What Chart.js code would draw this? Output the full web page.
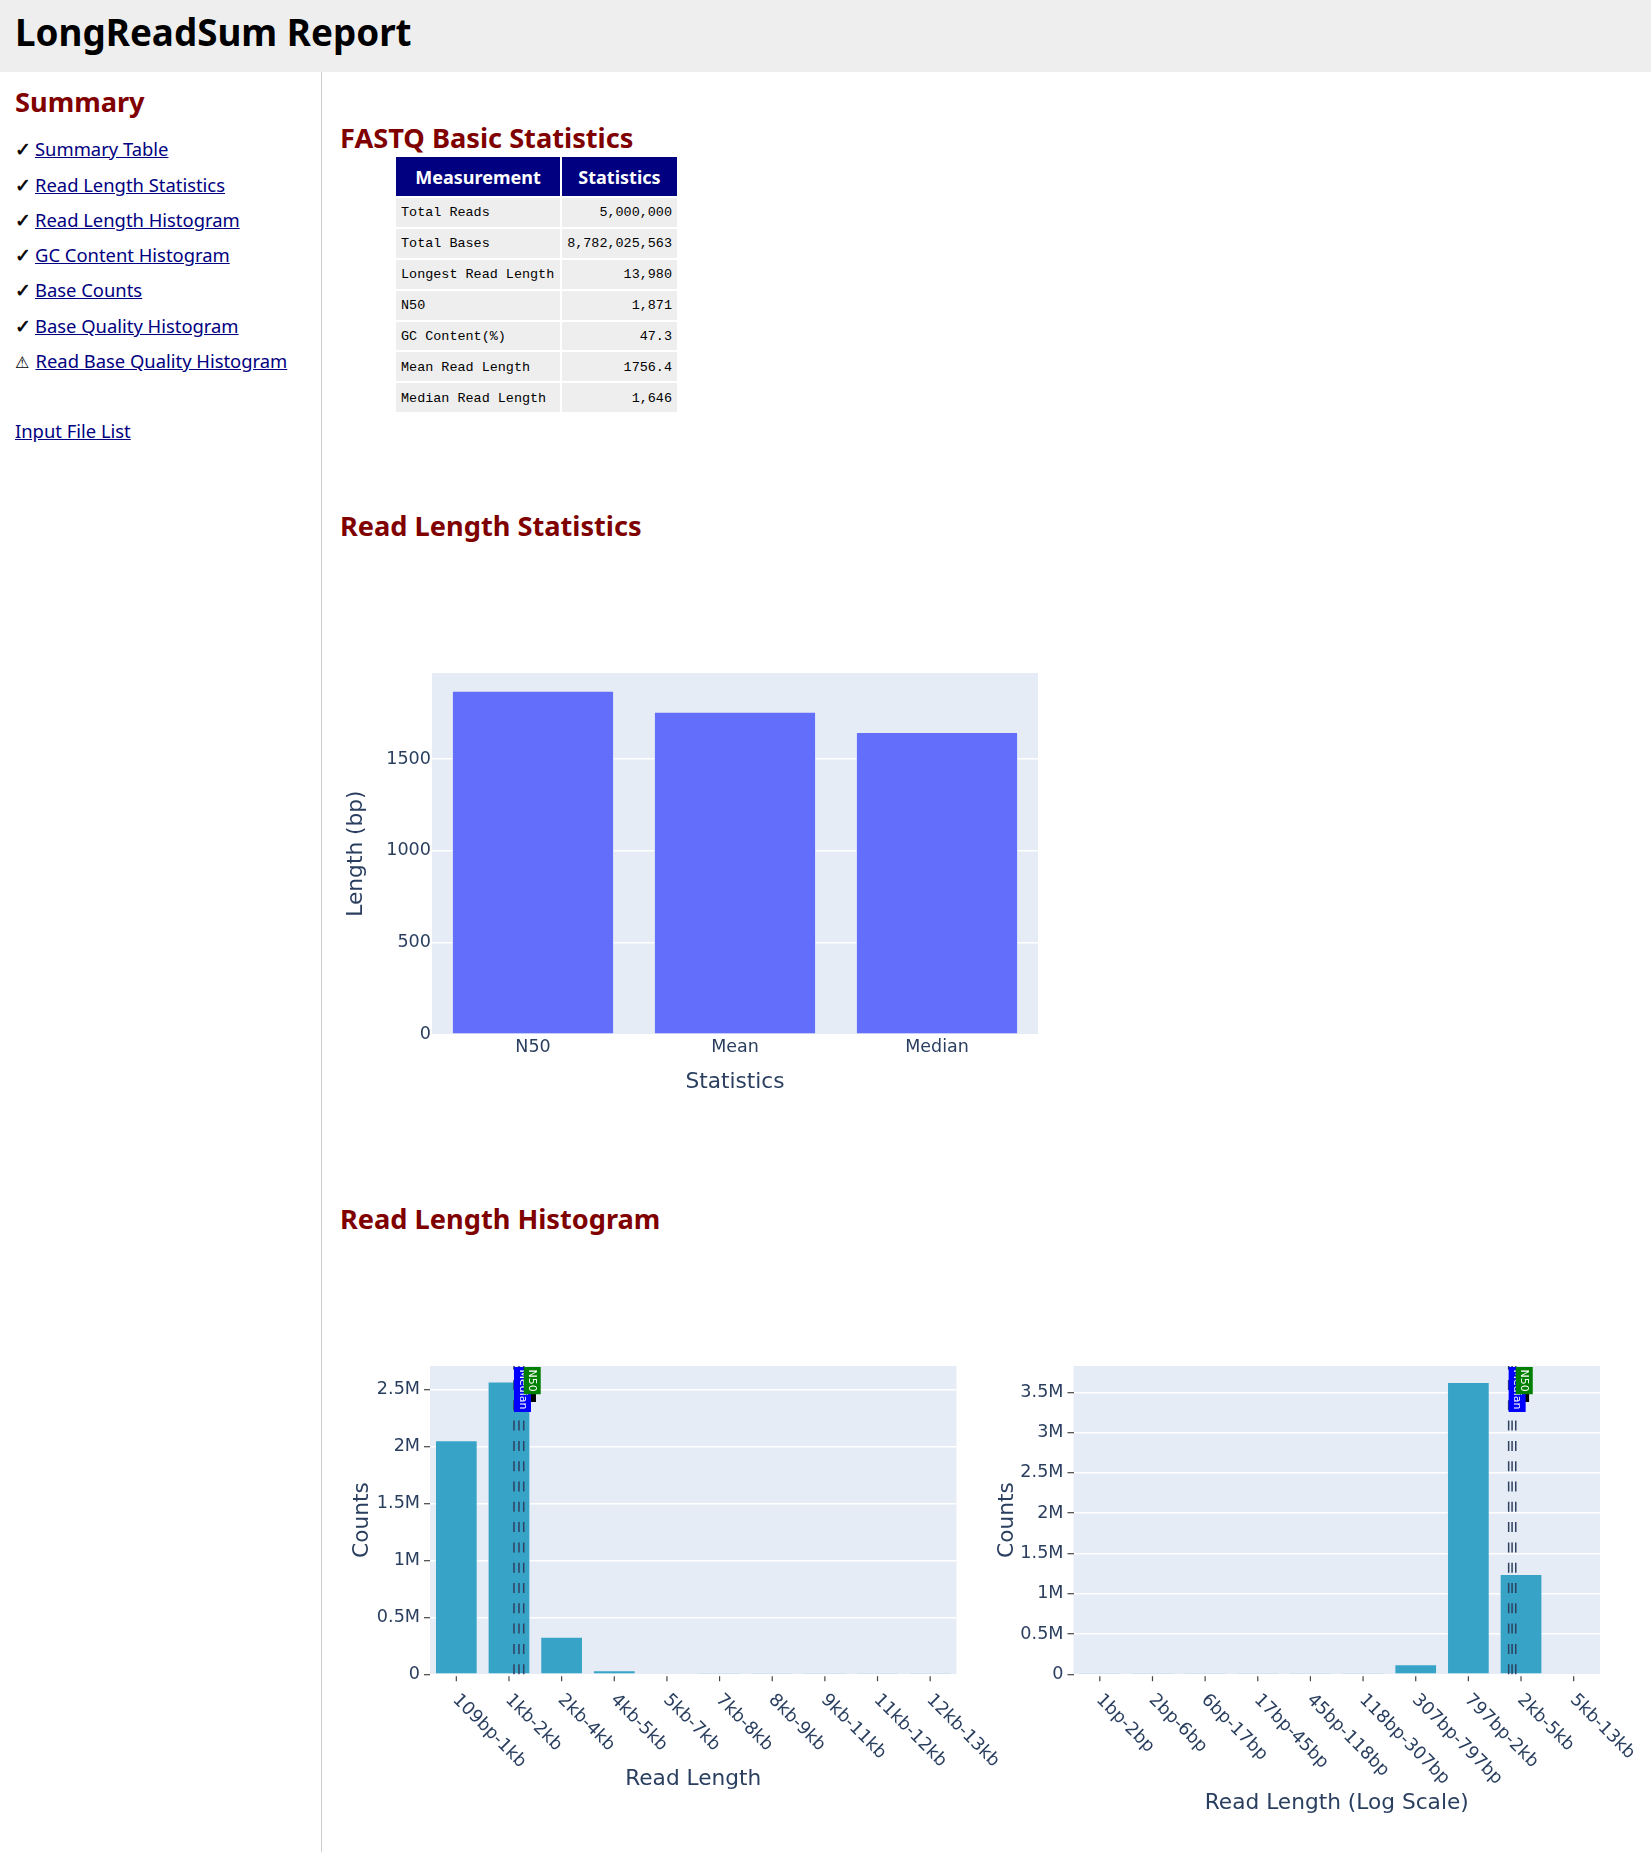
<!DOCTYPE html>
<html>
<head>
<meta charset="utf-8">
<title>LongReadSum Report</title>
<script src="https://cdn.jsdelivr.net/npm/chart.js@4"></script>
<style>
  html, body { margin: 0; padding: 0; background: #fff; }
  body { position: relative; width: 1651px; height: 1852px; overflow: hidden; font-family: "Noto Sans", sans-serif; }
  .abs { position: absolute; margin: 0; white-space: nowrap; }
  #top { left: 0; top: 0; width: 1651px; height: 72px; background: #eeeeee; }
  h1 { font-size: 36.8px; line-height: 40px; font-weight: 700; color: #000; }
  h2 { font-size: 27.2px; line-height: 34px; font-weight: 700; color: #800000; }
  #divider { left: 321px; top: 72px; width: 1px; height: 1780px; background: #ccc; }
  .nav { font-size: 18.4px; line-height: 26px; color: #000; }
  .nav a { color: #000080; text-decoration: underline; }
  .nav span { display: inline-block; width: 20px; font-family: "DejaVu Sans"; font-size: 19px; -webkit-text-stroke: 0.6px #000; }
  .nav span.warn { width: 20.5px; font-size: 16px; -webkit-text-stroke: 0; }
  table { left: 394px; top: 155px; border-collapse: separate; border-spacing: 2px; }
  th { background: #000080; color: #fff; font-size: 18px; font-weight: 700; height: 39px; padding: 0; text-align: center; }
  td { box-sizing: border-box; background: #eeeeee; height: 28.9px; padding: 1px 5px 0; font-family: "Liberation Mono", monospace; font-size: 13.45px; line-height: 15px; color: #000; }
  td.v { text-align: right; }
  canvas { position: absolute; }
</style>
</head>
<body>
<div class="abs" id="top"></div>
<h1 class="abs" style="left:15px;top:12px">LongReadSum Report</h1>
<div class="abs" id="divider"></div>

<h2 class="abs" style="left:15px;top:85px">Summary</h2>
<div id="nav"></div>
<div class="abs nav" style="left:15px;top:418px"><a href="#">Input File List</a></div>

<h2 class="abs" style="left:340px;top:121px">FASTQ Basic Statistics</h2>
<table class="abs" id="stats"></table>

<h2 class="abs" style="left:340px;top:509px">Read Length Statistics</h2>
<canvas id="lenStats" width="720" height="480" style="left:340px;top:630px"></canvas>

<h2 class="abs" style="left:340px;top:1202px">Read Length Histogram</h2>
<canvas id="histLinear" width="670" height="522" style="left:340px;top:1330px"></canvas>
<canvas id="histLog" width="666" height="522" style="left:985px;top:1330px"></canvas>

<script>
// sidebar and table text
const navLabels = ['Summary Table', 'Read Length Statistics', 'Read Length Histogram', 'GC Content Histogram',
  'Base Counts', 'Base Quality Histogram', 'Read Base Quality Histogram'];
const navIcons = ['✓', '✓', '✓', '✓', '✓', '✓', '⚠'];
const tableHead = ['Measurement', 'Statistics'];
const tableLabels = ['Total Reads', 'Total Bases', 'Longest Read Length', 'N50', 'GC Content(%)', 'Mean Read Length', 'Median Read Length'];
const tableValues = ['5,000,000', '8,782,025,563', '13,980', '1,871', '47.3', '1756.4', '1,646'];

// bar chart of the read length statistics
const statNames = ['N50', 'Mean', 'Median'];
const statValues = [1871, 1756.4, 1646];
const statTicks = [0, 500, 1000, 1500];

// linear histogram
const linearBins = ['109bp-1kb', '1kb-2kb', '2kb-4kb', '4kb-5kb', '5kb-7kb', '7kb-8kb', '8kb-9kb', '9kb-11kb', '11kb-12kb', '12kb-13kb'];
const linearCounts = [2055000, 2570000, 327000, 32000, 8000, 1500, 500, 200, 100, 50];
const linearTicks = [0, 500000, 1000000, 1500000, 2000000, 2500000];

// log histogram
const logBins = ['1bp-2bp', '2bp-6bp', '6bp-17bp', '17bp-45bp', '45bp-118bp', '118bp-307bp', '307bp-797bp', '797bp-2kb', '2kb-5kb', '5kb-13kb'];
const logCounts = [50, 50, 50, 50, 50, 50, 120000, 3624000, 1240000, 6000];
const logTicks = [0, 500000, 1000000, 1500000, 2000000, 2500000, 3000000, 3500000];

// Mean, Median and N50 markers, in bin units along each category axis
const markLabels = ['Mean', 'Median', 'N50'];
const markColors = ['#000000', '#0000ff', '#008000'];
const markLinear = [1.19, 1.095, 1.28];
const markLog = [7.83, 7.765, 7.9];

const ink = '#2a3f5f';
const axisFont = '"DejaVu Sans", Verdana, sans-serif';

document.getElementById('nav').innerHTML = navLabels.map((label, i) =>
  `<div class="abs nav" style="left:15px;top:${[136, 172, 207, 242, 277, 313, 348][i]}px"><span class="${navIcons[i] === '⚠' ? 'warn' : ''}">${navIcons[i]}</span><a href="#">${label}</a></div>`
).join('');

document.getElementById('stats').innerHTML =
  `<tr><th style="width:164px">${tableHead[0]}</th><th style="width:115px">${tableHead[1]}</th></tr>` +
  tableLabels.map((label, i) => `<tr><td>${label}</td><td class="v">${tableValues[i]}</td></tr>`).join('');

// plotly style plot background
const plotBg = {
  id: 'plotBg',
  beforeDraw(chart) {
    const a = chart.chartArea;
    chart.ctx.fillStyle = '#e5ecf6';
    chart.ctx.fillRect(a.left, a.top, a.right - a.left, a.bottom - a.top);
  }
};

// x ticks slanted downwards from the tick, chart.js only right aligns rotated labels
const slantedTicks = {
  id: 'slantedTicks',
  afterDraw(chart) {
    const ctx = chart.ctx, scale = chart.scales.x, bottom = chart.chartArea.bottom;
    ctx.save();
    scale.ticks.forEach((tick, i) => {
      const x = scale.getPixelForTick(i);
      ctx.strokeStyle = '#444';
      ctx.lineWidth = 1.2;
      ctx.beginPath();
      ctx.moveTo(x, bottom + 2);
      ctx.lineTo(x, bottom + 7);
      ctx.stroke();
      ctx.save();
      ctx.translate(x - 1, bottom + 23);
      ctx.rotate(Math.PI / 4);
      ctx.font = '17.8px ' + axisFont;
      ctx.fillStyle = ink;
      ctx.textAlign = 'left';
      ctx.textBaseline = 'middle';
      ctx.fillText(scale.getLabelForValue(tick.value), 0, 0);
      ctx.restore();
    });
    ctx.restore();
  }
};

// dashed lines and their boxed labels
function markers(positions) {
  return {
    id: 'markers',
    afterDatasetsDraw(chart) {
      const ctx = chart.ctx, scale = chart.scales.x, a = chart.chartArea;
      ctx.save();
      ctx.strokeStyle = '#2f4060';
      ctx.lineWidth = 1.5;
      ctx.setLineDash([10, 10.3]);
      positions.forEach(pos => {
        const x = scale.getPixelForValue(pos);
        ctx.beginPath();
        ctx.moveTo(x, a.bottom);
        ctx.lineTo(x, a.top);
        ctx.stroke();
      });
      ctx.setLineDash([]);
      ctx.font = '11px ' + axisFont;
      markLabels.forEach((label, i) => {
        const x = scale.getPixelForValue(positions[i]);
        const len = ctx.measureText(label).width + 5;
        ctx.fillStyle = markColors[i];
        ctx.fillRect(x, a.top + 1, 17, len);
        ctx.save();
        ctx.translate(x + 8.5, a.top + 1 + len / 2);
        ctx.rotate(Math.PI / 2);
        ctx.fillStyle = '#fff';
        ctx.textAlign = 'center';
        ctx.textBaseline = 'middle';
        ctx.fillText(label, 0, 0);
        ctx.restore();
      });
      ctx.restore();
    }
  };
}

function barChart(id, cfg) {
  return new Chart(document.getElementById(id), {
    type: 'bar',
    data: {
      labels: cfg.labels,
      datasets: [{
        data: cfg.values,
        backgroundColor: cfg.color,
        borderColor: '#e5ecf6',
        borderWidth: 0.7,
        inflateAmount: 0,
        barPercentage: 0.8,
        categoryPercentage: 1
      }]
    },
    plugins: cfg.plugins,
    options: {
      responsive: false,
      animation: false,
      layout: { padding: cfg.padding },
      plugins: { legend: { display: false }, tooltip: { enabled: false } },
      scales: {
        x: {
          afterFit: s => { s.height = cfg.xHeight; },
          border: { display: false },
          grid: { display: false, drawTicks: false },
          ticks: {
            display: cfg.plainTicks,
            autoSkip: false,
            maxRotation: 0,
            padding: 2.5,
            color: ink,
            font: { family: axisFont, size: 17.5 }
          },
          title: {
            display: true,
            text: cfg.xTitle,
            color: ink,
            font: { family: axisFont, size: 21.7 },
            padding: { top: 0, bottom: cfg.xTitlePad }
          }
        },
        y: {
          afterFit: s => { s.width = cfg.yWidth; },
          // stepSize would get stretched to fit the non round max
          afterBuildTicks: s => { s.ticks = cfg.yTicks.map(value => ({ value })); },
          min: 0,
          max: cfg.yMax,
          border: { display: false },
          grid: {
            color: '#ffffff',
            lineWidth: 1.4,
            drawTicks: !cfg.plainTicks,
            tickLength: 6,
            tickColor: '#444',
            tickWidth: 1.2
          },
          ticks: {
            padding: cfg.plainTicks ? 1 : 4,
            color: ink,
            font: { family: axisFont, size: 17.6 },
            callback: cfg.yFormat
          },
          title: {
            display: true,
            text: cfg.yTitle,
            color: ink,
            font: { family: axisFont, size: 21.7 },
            padding: { top: cfg.yTitlePad, bottom: 0 }
          }
        }
      }
    }
  });
}

const millions = v => v === 0 ? '0' : (v / 1000000) + 'M';

barChart('lenStats', {
  labels: statNames,
  values: statValues,
  color: '#636efa',
  plugins: [plotBg],
  plainTicks: true,
  padding: { top: 43, right: 22, left: 0, bottom: 0 },
  xHeight: 75.8,
  yWidth: 92,
  xTitle: 'Statistics',
  xTitlePad: 15,
  yTitle: 'Length (bp)',
  yTitlePad: 3.5,
  yMax: 1969.5,
  yTicks: statTicks,
  yFormat: v => String(v)
});

barChart('histLinear', {
  labels: linearBins,
  values: linearCounts,
  color: '#37a4c7',
  plugins: [plotBg, markers(markLinear), slantedTicks],
  plainTicks: false,
  padding: { top: 36, right: 53.5, left: 0, bottom: 0 },
  xHeight: 177.8,
  yWidth: 90,
  xTitle: 'Read Length',
  xTitlePad: 60,
  yTitle: 'Counts',
  yTitlePad: 9.8,
  yMax: 2710000,
  yTicks: linearTicks,
  yFormat: millions
});

barChart('histLog', {
  labels: logBins,
  values: logCounts,
  color: '#37a4c7',
  plugins: [plotBg, markers(markLog), slantedTicks],
  plainTicks: false,
  padding: { top: 36, right: 51, left: 0, bottom: 0 },
  xHeight: 177.8,
  yWidth: 88.5,
  xTitle: 'Read Length (Log Scale)',
  xTitlePad: 36,
  yTitle: 'Counts',
  yTitlePad: 9.7,
  yMax: 3827000,
  yTicks: logTicks,
  yFormat: millions
});
</script>
</body>
</html>
